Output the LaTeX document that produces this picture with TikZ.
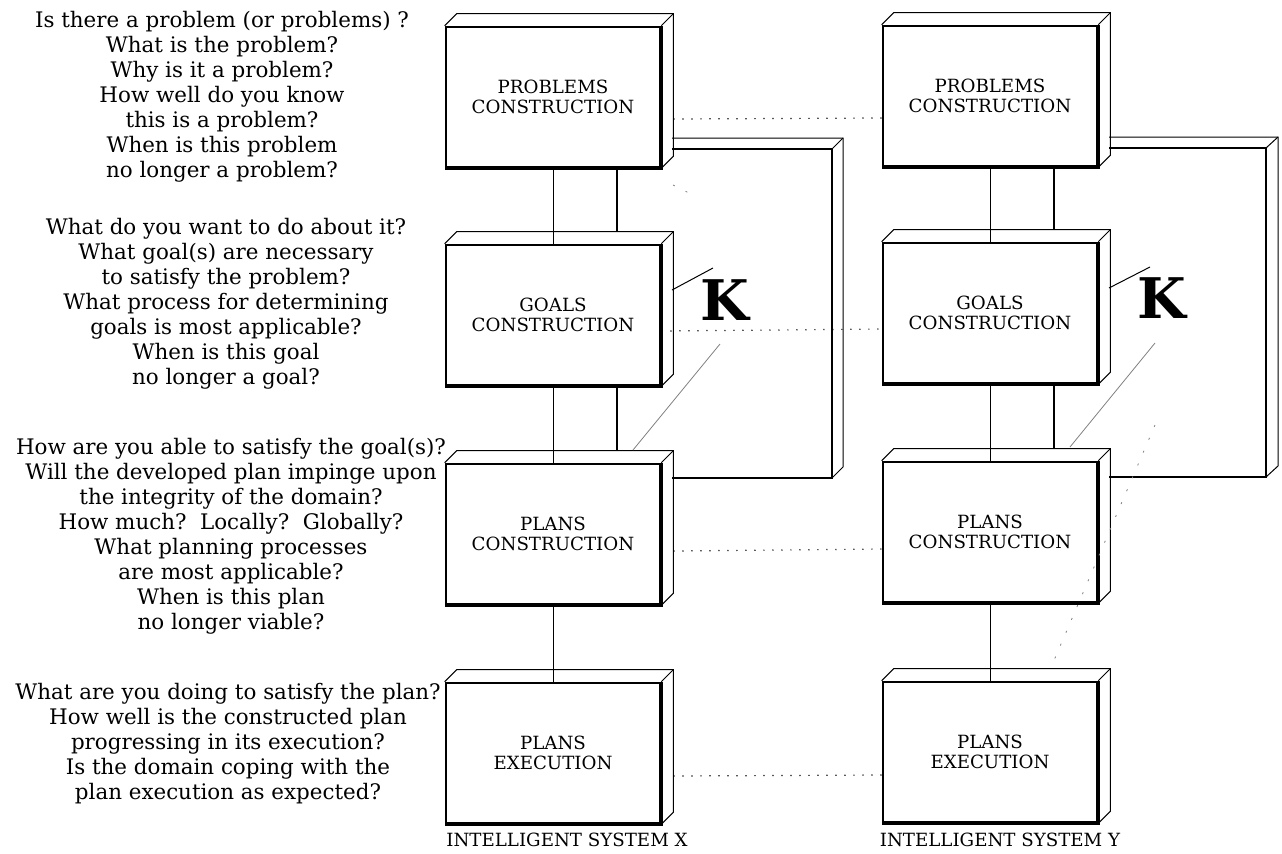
\documentclass[tikz,border=0pt]{standalone}
\usepackage{fontspec}
\setmainfont{DejaVu Serif}
\begin{document}
\begin{tikzpicture}[x=0.5pt,y=-0.5pt,
    blocco/.style={draw, line width=1.3pt, minimum width=107pt, minimum height=70pt,
        inner sep=0pt, align=center, font=\fontsize{9.1}{10}\selectfont},
    domande/.style={align=center, font=\fontsize{10.7}{12.5}\selectfont},
    lato/.style={line width=0.5pt},
    punti/.style={line width=0.6pt, dash pattern=on 0.6pt off 3.9pt}]

    \useasboundingbox (0,0) rectangle (1282,853);

    % Blocchi del sistema X
    \node[blocco] (px) at (553,97) {PROBLEMS\\CONSTRUCTION};
    \node[blocco] (gx) at (553,315) {GOALS\\CONSTRUCTION};
    \node[blocco] (cx) at (553,534) {PLANS\\CONSTRUCTION};
    \node[blocco] (ex) at (553,753) {PLANS\\EXECUTION};

    % Blocchi del sistema Y
    \node[blocco] (py) at (990,96) {PROBLEMS\\CONSTRUCTION};
    \node[blocco] (gy) at (990,313) {GOALS\\CONSTRUCTION};
    \node[blocco] (cy) at (990,532) {PLANS\\CONSTRUCTION};
    \node[blocco] (ey) at (990,752) {PLANS\\EXECUTION};

    % Facce in rilievo
    \foreach \b in {px,gx,cx,ex,py,gy,cy,ey}{
        \draw[lato] (\b.north west) -- ++(12,-12) -| ([shift={(12,-12)}]\b.south east) -- (\b.south east);
        \draw[lato] (\b.north east) -- ++(12,-12);
        \draw[line width=1.8pt] (\b.north east) -- (\b.south east) -- (\b.south west);
    }

    % Collegamenti verticali
    \foreach \s in {x,y}{
        \draw[lato] (p\s.south) -- (g\s.north);
        \draw[lato] (g\s.south) -- (c\s.north);
        \draw[lato] (c\s.south) -- (e\s.north);
        \draw[line width=1.2pt] ([xshift=32pt]p\s.south) -- ([xshift=32pt,yshift=6pt]g\s.north);
        \draw[line width=1.2pt] ([xshift=32pt]g\s.south) -- ([xshift=32pt,yshift=6pt]c\s.north);
    }

    % Telaio K del sistema X
    \draw[line width=1.3pt] (672,149) -| (832,478) -- (672,478);
    \draw[lato] (672,138) -- (843,138) -- (843,467) -- (832,478);
    \draw[lato] (832,149) -- (843,138);

    % Telaio K del sistema Y
    \draw[line width=1.3pt] (1109,148) -| (1266,477) -- (1109,477);
    \draw[lato] (1109,137) -- (1278,137) -- (1278,466) -- (1266,477);
    \draw[lato] (1266,148) -- (1278,137);

    % Lettere K e segmenti
    \node[font=\fontsize{28}{28}\selectfont\bfseries] (kx) at (725,300) {K};
    \node[font=\fontsize{28}{28}\selectfont\bfseries] (ky) at (1162,298) {K};
    \draw[lato] (672,290) -- (713,268);
    \draw[line width=0.4pt, gray] (720,344) -- (633,450);
    \draw[lato] (1109,288) -- (1150,267);
    \draw[line width=0.4pt, gray] (1155,343) -- (1070,447);
    \draw[line width=0.4pt, gray, dash pattern=on 1pt off 6pt] (1155,425) -- (1052,665);
    \draw[line width=0.4pt, gray, dash pattern=on 1pt off 6pt] (673,185) -- (697,197);

    % Collegamenti tratteggiati fra X e Y
    \draw[punti] ([xshift=6pt,yshift=-11pt]px.east) -- ([yshift=-11pt]py.west);
    \draw[punti] ([yshift=-8pt]gx.east) -- ([yshift=-8pt]gy.west);
    \draw[punti] ([xshift=6pt,yshift=-8.5pt]cx.east) -- ([yshift=-8.5pt]cy.west);
    \draw[punti] ([xshift=6pt,yshift=-11.5pt]ex.east) -- ([yshift=-11.5pt]ey.west);

    % Nomi dei sistemi
    \node[font=\fontsize{9.1}{10}\selectfont] (nx) at (567,840) {INTELLIGENT SYSTEM X};
    \node[font=\fontsize{9.1}{10}\selectfont] (ny) at (1000,840) {INTELLIGENT SYSTEM Y};

    % Domande a sinistra
    \node[domande] (q1) at (222,97) {Is there a problem (or problems) ?\\What is the problem?\\Why is it a problem?\\How well do you know\\this is a problem?\\When is this problem\\no longer a problem?};
    \node[domande] (q2) at (226,304) {What do you want to do about it?\\What goal(s) are necessary\\to satisfy the problem?\\What process for determining\\goals is most applicable?\\When is this goal\\no longer a goal?};
    \node[domande] (q3) at (231,536) {How are you able to satisfy the goal(s)?\\Will the developed plan impinge upon\\the integrity of the domain?\\How much?\ \ Locally?\ \ Globally?\\What planning processes\\are most applicable?\\When is this plan\\no longer viable?};
    \node[domande] (q4) at (228,744) {What are you doing to satisfy the plan?\\How well is the constructed plan\\progressing in its execution?\\Is the domain coping with the\\plan execution as expected?};
\end{tikzpicture}
\end{document}
